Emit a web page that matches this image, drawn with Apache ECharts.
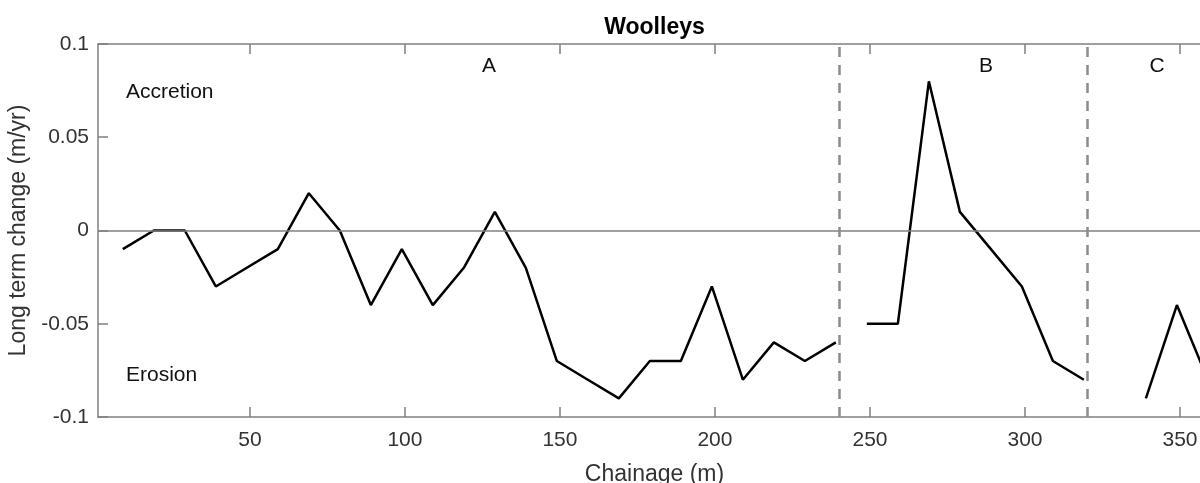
<!DOCTYPE html>
<html>
<head>
<meta charset="utf-8">
<script src="https://cdn.jsdelivr.net/npm/echarts@6/dist/echarts.min.js"></script>
<style>
  html, body { margin: 0; padding: 0; background: #fff; }
  #chart { width: 1200px; height: 483px; }
</style>
</head>
<body>
<div id="chart"></div>
<script>
// chainage (m) and long term change (m/yr), one array pair per section
const chainageA = [9, 19, 29, 39, 49, 59, 69, 79, 89, 99, 109, 119, 129, 139, 149, 159, 169, 179, 189, 199, 209, 219, 229, 239];
const changeA = [-0.01, 0, 0, -0.03, -0.02, -0.01, 0.02, 0, -0.04, -0.01, -0.04, -0.02, 0.01, -0.02, -0.07, -0.08, -0.09, -0.07, -0.07, -0.03, -0.08, -0.06, -0.07, -0.06];
const chainageB = [249, 259, 269, 279, 289, 299, 309, 319];
const changeB = [-0.05, -0.05, 0.08, 0.01, -0.01, -0.03, -0.07, -0.08];
const chainageC = [339, 349, 359];
const changeC = [-0.09, -0.04, -0.08];
const dividers = [240, 320];
const xTicks = [50, 100, 150, 200, 250, 300, 350];

const font = "'Liberation Sans', Arial, sans-serif";
const axisGray = '#808080';
const textCol = '#333333';

function pairs(xs, ys) {
    return xs.map((x, i) => [x, ys[i]]);
}

let myChart = echarts.init(document.getElementById('chart'));

function lineSeries(xs, ys) {
    return {
        type: 'line',
        data: pairs(xs, ys),
        showSymbol: false,
        silent: true,
        lineStyle: { color: '#000', width: 2.5 },
        itemStyle: { color: '#000' }
    };
}

const seriesA = lineSeries(chainageA, changeA);
seriesA.markLine = {
    silent: true,
    symbol: 'none',
    label: { show: false },
    data: [
        { yAxis: 0, lineStyle: { color: axisGray, width: 1.5, type: 'solid' } }
    ].concat(dividers.map(d => ({
        xAxis: d,
        lineStyle: { color: '#8c8c8c', width: 2.5, type: [10, 8] }
    })))
};

var option = {
    animation: false,
    textStyle: { fontFamily: font },
    // plot box runs past the right edge of the picture, as in the cropped original
    grid: { left: 98, top: 44, width: 1113, bottom: 66, outerBoundsMode: 'none', containLabel: false },
    xAxis: [
        {
            type: 'value',
            position: 'bottom',
            min: 1,
            max: 360,
            name: 'Chainage (m)',
            nameLocation: 'middle',
            nameGap: 46,
            nameTextStyle: { fontSize: 23, color: textCol, fontFamily: font },
            axisLine: { show: true, onZero: false, lineStyle: { color: axisGray, width: 1.5 } },
            axisTick: { show: true, inside: true, length: 10, customValues: xTicks, lineStyle: { color: axisGray, width: 1.5 } },
            axisLabel: { customValues: xTicks, fontSize: 21, color: textCol, margin: 13, fontFamily: font },
            splitLine: { show: false }
        },
        {
            type: 'value',
            position: 'top',
            min: 1,
            max: 360,
            name: 'Woolleys',
            nameLocation: 'middle',
            nameGap: 5,
            nameTextStyle: { fontSize: 23, fontWeight: 'bold', color: '#000', fontFamily: font },
            axisLine: { show: true, onZero: false, lineStyle: { color: axisGray, width: 1.5 } },
            axisTick: { show: true, inside: true, length: 10, customValues: xTicks, lineStyle: { color: axisGray, width: 1.5 } },
            axisLabel: { show: false },
            splitLine: { show: false }
        }
    ],
    yAxis: {
        type: 'value',
        min: -0.1,
        max: 0.1,
        interval: 0.05,
        name: 'Long term change (m/yr)',
        nameLocation: 'middle',
        nameRotate: 90,
        nameGap: 59,
        nameTextStyle: { fontSize: 23, color: textCol, fontFamily: font },
        axisLine: { show: true, onZero: false, lineStyle: { color: axisGray, width: 1.5 } },
        axisTick: { show: true, inside: true, length: 10, lineStyle: { color: axisGray, width: 1.5 } },
        axisLabel: {
            fontSize: 21, color: textCol, margin: 9, fontFamily: font,
            formatter: v => String(+v.toFixed(2))
        },
        splitLine: { show: false }
    },
    graphic: [
        { type: 'text', x: 126, y: 92, style: { text: 'Accretion', font: '21px ' + font, fill: '#111', align: 'left', verticalAlign: 'middle' } },
        { type: 'text', x: 126, y: 375, style: { text: 'Erosion', font: '21px ' + font, fill: '#111', align: 'left', verticalAlign: 'middle' } },
        { type: 'text', x: 489, y: 66, style: { text: 'A', font: '21px ' + font, fill: '#111', align: 'center', verticalAlign: 'middle' } },
        { type: 'text', x: 986, y: 66, style: { text: 'B', font: '21px ' + font, fill: '#111', align: 'center', verticalAlign: 'middle' } },
        { type: 'text', x: 1157, y: 66, style: { text: 'C', font: '21px ' + font, fill: '#111', align: 'center', verticalAlign: 'middle' } }
    ],
    series: [
        seriesA,
        lineSeries(chainageB, changeB),
        lineSeries(chainageC, changeC)
    ]
};

myChart.setOption(option);

window.addEventListener('resize', () => {
    myChart.resize();
});
</script>
</body>
</html>
